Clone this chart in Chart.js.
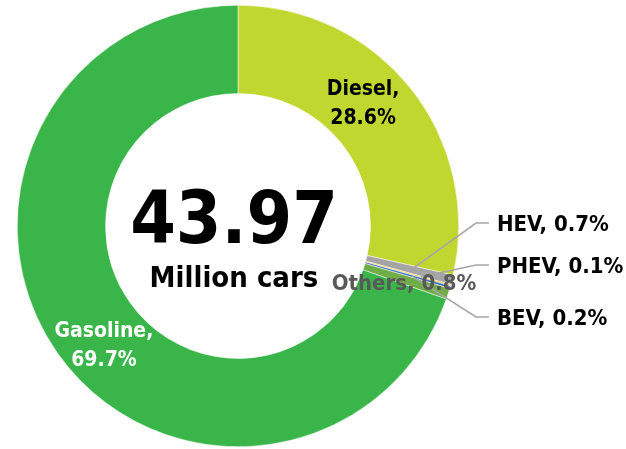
<!DOCTYPE html>
<html>
<head>
<meta charset="utf-8">
<script src="https://cdn.jsdelivr.net/npm/chart.js@4.4.1/dist/chart.umd.min.js"></script>
<style>
  html, body { margin: 0; padding: 0; background: #fff; }
</style>
</head>
<body>
<canvas id="fuelChart" width="626" height="449"></canvas>
<script>
// Car fleet by fuel type
const fuelTypes = ['Diesel', 'HEV', 'PHEV', 'BEV', 'Others', 'Gasoline'];
const fuelShares = [28.6, 0.7, 0.1, 0.2, 0.8, 69.7];
const fuelColors = ['#C0D730', '#A5A5A5', '#FFC000', '#4472C4', '#70AD47', '#3AB54A'];
const totalCars = '43.97';
const totalUnit = 'Million cars';

const FONT = '"DejaVu Sans Condensed", "DejaVu Sans", sans-serif';

// where each label goes (relative to chart geometry)
const insideLabels = {
  0: { dx: -13, dy: -12, color: '#000000' },   // Diesel
  5: { dx: 10, dy: 17, color: '#FFFFFF' },     // Gasoline
};
const leaderLabels = {
  1: { r: 0.81, lineY: -3, textY: -1 },        // HEV
  2: { r: 0.86, lineY: 39, textY: 41 },        // PHEV
  3: { r: 0.82, lineY: 91, textY: 93 },        // BEV
};

const labelPlugin = {
  id: 'fuelLabels',
  afterDatasetsDraw(chart) {
    const ctx = chart.ctx;
    const arcs = chart.getDatasetMeta(0).data;
    const cx = arcs[0].x;
    const cy = arcs[0].y;
    const R = arcs[0].outerRadius;

    ctx.save();
    ctx.textAlign = 'center';
    ctx.textBaseline = 'middle';
    ctx.font = 'bold 21px ' + FONT;

    // labels inside the ring
    Object.keys(insideLabels).forEach(i => {
      const cfg = insideLabels[i];
      const p = arcs[i].tooltipPosition();
      ctx.fillStyle = cfg.color;
      ctx.fillText(fuelTypes[i] + ',', p.x + cfg.dx, p.y + cfg.dy - 14);
      ctx.fillText(fuelShares[i].toFixed(1) + '%', p.x + cfg.dx, p.y + cfg.dy + 15);
    });

    // labels with leader lines
    ctx.font = 'bold 22px ' + FONT;
    Object.keys(leaderLabels).forEach(i => {
      const cfg = leaderLabels[i];
      const a = arcs[i];
      const mid = (a.startAngle + a.endAngle) / 2;
      const sx = cx + Math.cos(mid) * R * cfg.r;
      const sy = cy + Math.sin(mid) * R * cfg.r;
      ctx.strokeStyle = '#A6A6A6';
      ctx.lineWidth = 1.6;
      ctx.beginPath();
      ctx.moveTo(sx, sy);
      ctx.lineTo(cx + 238, cy + cfg.lineY);
      ctx.lineTo(cx + 251, cy + cfg.lineY);
      ctx.stroke();
      ctx.fillStyle = '#000000';
      ctx.textAlign = 'left';
      ctx.fillText(fuelTypes[i] + ', ' + fuelShares[i].toFixed(1) + '%', cx + 259, cy + cfg.textY);
    });

    // Others label sits over the ring
    const o = arcs[4];
    const om = (o.startAngle + o.endAngle) / 2;
    ctx.fillStyle = '#595959';
    ctx.textAlign = 'center';
    ctx.fillText(fuelTypes[4] + ', ' + fuelShares[4].toFixed(1) + '%',
      cx + Math.cos(om) * R * 0.79, cy + Math.sin(om) * R * 0.79 + 5);

    // total in the middle
    ctx.fillStyle = '#000000';
    ctx.textBaseline = 'alphabetic';
    ctx.font = 'bold 73px ' + FONT;
    ctx.fillText(totalCars, cx - 4, cy + 17);
    ctx.font = 'bold 29px ' + FONT;
    ctx.fillText(totalUnit, cx - 4, cy + 61);
    ctx.restore();
  }
};

const ctx = document.getElementById('fuelChart').getContext('2d');
new Chart(ctx, {
  type: 'doughnut',
  data: {
    labels: fuelTypes,
    datasets: [{
      data: fuelShares,
      backgroundColor: fuelColors,
      borderColor: '#FFFFFF',
      borderWidth: 0.5,
      hoverOffset: 0,
    }],
  },
  options: {
    responsive: false,
    animation: false,
    cutout: '60%',
    layout: {
      padding: { left: 17, right: 167, top: 5, bottom: 2 },
    },
    plugins: {
      legend: { display: false },
      tooltip: { enabled: false },
    },
  },
  plugins: [labelPlugin],
});
</script>
</body>
</html>
